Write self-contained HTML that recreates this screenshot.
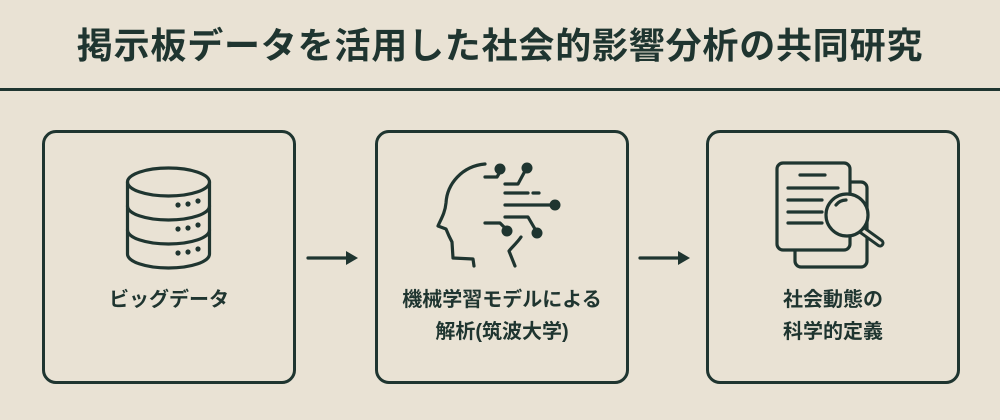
<!DOCTYPE html>
<html><head><meta charset="utf-8"><style>
html,body{margin:0;padding:0;}
body{width:1000px;height:420px;background:#e9e2d4;position:relative;overflow:hidden;font-family:"Liberation Sans","Noto Sans CJK JP",sans-serif;color:#1f3530;}
.t{position:absolute;left:0;width:1000px;top:24px;text-align:center;font-size:36px;line-height:44px;font-weight:bold;letter-spacing:0.8px;}
.rule{position:absolute;left:0;width:1000px;top:88px;height:3px;background:#1f3530;}
.box{position:absolute;top:130px;width:248px;height:248px;border:3px solid #1f3530;border-radius:14px;}
.lbl{position:absolute;left:0;width:100%;text-align:center;font-size:20px;font-weight:bold;line-height:32px;top:151px;}
</style></head><body>
<div class="t">掲示板データを活用した社会的影響分析の共同研究</div>
<div class="rule"></div>
<div class="box" style="left:42px"><div class="lbl">ビッグデータ</div></div>
<div class="box" style="left:375px"><div class="lbl">機械学習モデルによる<br>解析(筑波大学)</div></div>
<div class="box" style="left:706px"><div class="lbl">社会動態の<br>科学的定義</div></div>
<svg width="1000" height="420" style="position:absolute;left:0;top:0" fill="none" stroke="#1f3530" stroke-width="3.2" stroke-linecap="round" stroke-linejoin="round">
<line x1="308" y1="258" x2="350" y2="258"/><polygon points="358,258 346,251 346,265" fill="#1f3530" stroke="none"/>
<line x1="640" y1="258" x2="682" y2="258"/><polygon points="690,258 678,251 678,265" fill="#1f3530" stroke="none"/>
<ellipse cx="168.5" cy="182" rx="41" ry="14"/>
<path d="M127.5,182 V254 A41,14 0 0 0 209.5,254 V182"/>
<path d="M127.5,206 A41,14 0 0 0 209.5,206"/>
<path d="M127.5,230 A41,14 0 0 0 209.5,230"/>
<g fill="#1f3530" stroke="none">
<circle cx="178" cy="205" r="2.6"/><circle cx="188" cy="204" r="2.6"/><circle cx="198" cy="201" r="2.6"/>
<circle cx="178" cy="229" r="2.6"/><circle cx="188" cy="228" r="2.6"/><circle cx="198" cy="225" r="2.6"/>
<circle cx="178" cy="253" r="2.6"/><circle cx="188" cy="252" r="2.6"/><circle cx="198" cy="249" r="2.6"/>
</g>
<path d="M485,164 C462,166 447,184 446,203 C445,213 441,219 438,226 L446,229 L449,236 L452,242 L453,258 L473,259 L474,266"/>
<path d="M521,237 C517,243 512,247 509,251 L515,266"/>
<g fill="#1f3530" stroke="none">
<circle cx="500" cy="169" r="5.5"/><circle cx="527" cy="168" r="5.5"/><circle cx="555" cy="205" r="5.5"/>
<circle cx="507" cy="231" r="5.5"/><circle cx="537" cy="233" r="5.5"/>
</g>
<path d="M485,177 H497 L500,172"/>
<path d="M505,184 H518 L525,171"/>
<line x1="505" y1="193" x2="528" y2="193"/><line x1="533" y1="193" x2="539" y2="193"/>
<line x1="505" y1="205" x2="552" y2="205"/>
<path d="M505,217 H528 L535,229"/>
<path d="M485,223 H500 L505,228"/>
<rect x="795" y="182" width="72" height="85" rx="6" fill="#e9e2d4"/>
<rect x="777" y="163" width="73" height="87" rx="6" fill="#e9e2d4"/>
<line x1="800" y1="175" x2="825" y2="175"/>
<line x1="788" y1="188" x2="838" y2="188"/>
<line x1="788" y1="200" x2="822" y2="200"/>
<line x1="788" y1="212" x2="822" y2="212"/>
<line x1="788" y1="223" x2="822" y2="223"/>
<line x1="862" y1="230" x2="880" y2="243" stroke-width="9"/>
<line x1="862" y1="230" x2="880" y2="243" stroke="#e9e2d4" stroke-width="3"/>
<circle cx="847" cy="215" r="21" fill="#e9e2d4"/>
<path d="M836,205 A13,13 0 0 1 846,200"/>
</svg>
</body></html>
